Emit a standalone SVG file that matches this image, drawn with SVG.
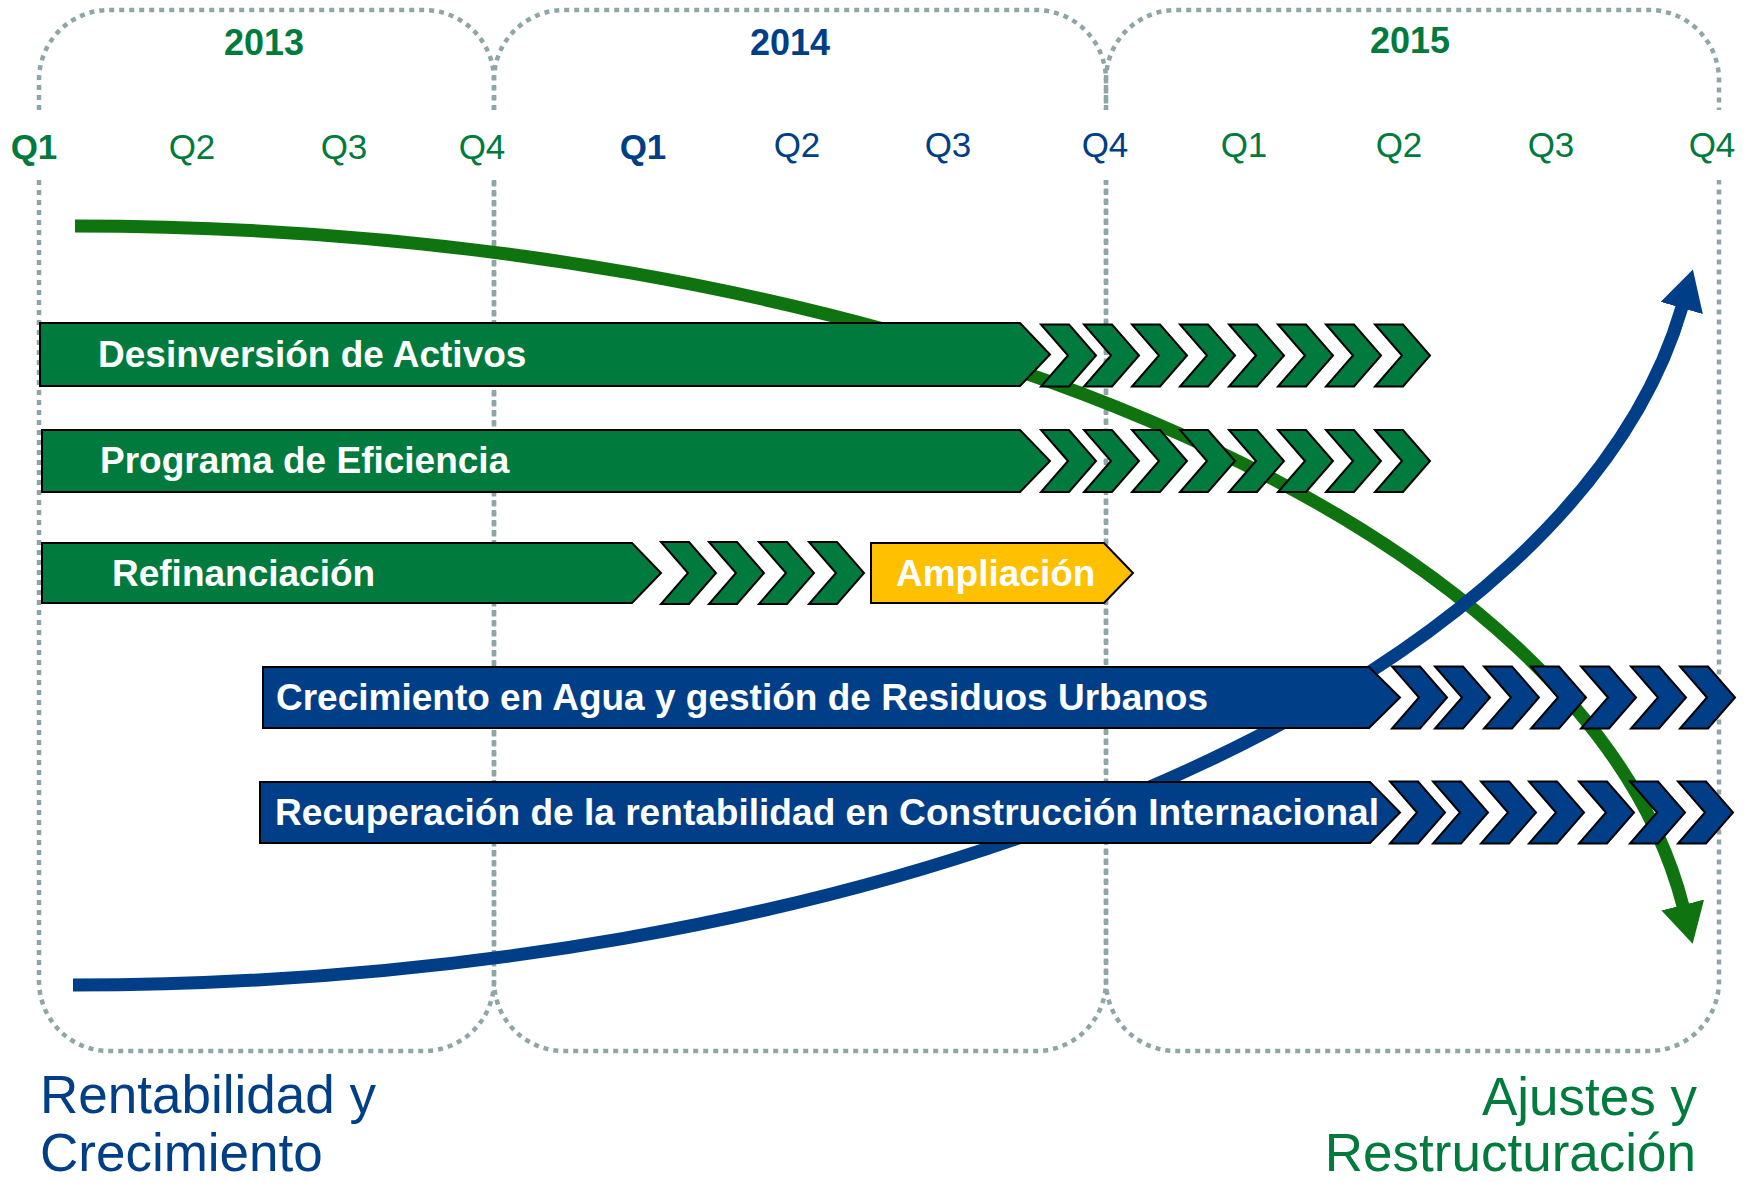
<svg xmlns="http://www.w3.org/2000/svg" xmlns:xlink="http://www.w3.org/1999/xlink" width="1748" height="1183" viewBox="0 0 1748 1183">
<style>
.frame{fill:none;stroke:#8FA6A6;stroke-width:4.5;stroke-dasharray:5 5}
.g{fill:#007A3D;stroke:#000;stroke-width:2;stroke-linejoin:miter}
.b{fill:#003F87;stroke:#000;stroke-width:2;stroke-linejoin:miter}
.y{fill:#FFC000;stroke:#000;stroke-width:2}
.lbl{font-family:"Liberation Sans",Arial,sans-serif;font-weight:bold;font-size:37px;fill:#fff}
.q{font-family:"Liberation Sans",Arial,sans-serif;font-size:35px;text-anchor:middle}
.yr{font-family:"Liberation Sans",Arial,sans-serif;font-size:36px;font-weight:bold;text-anchor:middle}
.tg{fill:#007A3D}
.tb{fill:#003F87}
.big{font-family:"Liberation Sans",Arial,sans-serif;font-size:53px}
</style>
<defs>
<path id="chev" d="M0,0 H28 L55,31 L28,62 H0 L27,31 Z"/>
<marker id="ahG" markerUnits="userSpaceOnUse" viewBox="0 0 40 44" markerWidth="40" markerHeight="44" refX="1" refY="22" orient="auto"><path d="M0,0 L40,22 L0,44 Z" fill="#0F730F"/></marker>
<marker id="ahB" markerUnits="userSpaceOnUse" viewBox="0 0 40 44" markerWidth="40" markerHeight="44" refX="1" refY="22" orient="auto"><path d="M0,0 L40,22 L0,44 Z" fill="#003F87"/></marker>
</defs>
<rect width="1748" height="1183" fill="#fff"/>
<g id="frames">
<path class="frame" d="M39,110 V80 A70,70 0 0 1 109,10 H424 A70,70 0 0 1 494,80 V110 M39,180 V981 A70,70 0 0 0 109,1051 H424 A70,70 0 0 0 494,981 V180"/>
<path class="frame" d="M494,110 V80 A70,70 0 0 1 564,10 H1036 A70,70 0 0 1 1106,80 V110 M494,180 V981 A70,70 0 0 0 564,1051 H1036 A70,70 0 0 0 1106,981 V180"/>
<path class="frame" d="M1106,110 V80 A70,70 0 0 1 1176,10 H1649 A70,70 0 0 1 1719,80 V110 M1106,180 V981 A70,70 0 0 0 1176,1051 H1649 A70,70 0 0 0 1719,981 V180"/>
</g>
<g id="years">
<text class="yr tg" x="264" y="55">2013</text>
<text class="yr tb" x="790" y="55">2014</text>
<text class="yr tg" x="1410" y="53">2015</text>
</g>
<g id="quarters">
<text class="q tg" x="34" y="159" font-weight="bold">Q1</text>
<text class="q tg" x="192" y="159">Q2</text>
<text class="q tg" x="344" y="159">Q3</text>
<text class="q tg" x="482" y="159">Q4</text>
<text class="q tb" x="643" y="159" font-weight="bold">Q1</text>
<text class="q tb" x="797" y="157">Q2</text>
<text class="q tb" x="948" y="157">Q3</text>
<text class="q tb" x="1105" y="157">Q4</text>
<text class="q tg" x="1244" y="157">Q1</text>
<text class="q tg" x="1399" y="157">Q2</text>
<text class="q tg" x="1551" y="157">Q3</text>
<text class="q tg" x="1712" y="157">Q4</text>
</g>
<g id="connectors">
<path d="M75,226 A1620,774 0 0 1 1683,906" fill="none" stroke="#0F730F" stroke-width="13" marker-end="url(#ahG)"/>
<path d="M73,985 A1625,788 0 0 0 1682,307" fill="none" stroke="#003F87" stroke-width="13" marker-end="url(#ahB)"/>
</g>
<g id="desinversion">
<polygon class="g" points="40,323 1020,323 1050,354.5 1020,386 40,386"/>
<use href="#chev" class="g" x="1041" y="324.5"/>
<use href="#chev" class="g" x="1084" y="324.5"/>
<use href="#chev" class="g" x="1132" y="324.5"/>
<use href="#chev" class="g" x="1180" y="324.5"/>
<use href="#chev" class="g" x="1229" y="324.5"/>
<use href="#chev" class="g" x="1278" y="324.5"/>
<use href="#chev" class="g" x="1326" y="324.5"/>
<use href="#chev" class="g" x="1375" y="324.5"/>
<text class="lbl" x="98" y="367">Desinversión de Activos</text>
</g>
<g id="eficiencia">
<polygon class="g" points="42,430 1020,430 1050,461 1020,492 42,492"/>
<use href="#chev" class="g" x="1041" y="430"/>
<use href="#chev" class="g" x="1084" y="430"/>
<use href="#chev" class="g" x="1132" y="430"/>
<use href="#chev" class="g" x="1180" y="430"/>
<use href="#chev" class="g" x="1229" y="430"/>
<use href="#chev" class="g" x="1278" y="430"/>
<use href="#chev" class="g" x="1326" y="430"/>
<use href="#chev" class="g" x="1375" y="430"/>
<text class="lbl" x="100" y="473">Programa de Eficiencia</text>
</g>
<g id="refinanciacion">
<polygon class="g" points="42,543 632,543 661,573 632,603 42,603"/>
<use href="#chev" class="g" x="661" y="542"/>
<use href="#chev" class="g" x="709" y="542"/>
<use href="#chev" class="g" x="759" y="542"/>
<use href="#chev" class="g" x="809" y="542"/>
<text class="lbl" x="112" y="586">Refinanciación</text>
</g>
<g id="ampliacion">
<polygon class="y" points="871,543 1104,543 1133,573 1104,603 871,603"/>
<text class="lbl" x="896" y="586">Ampliación</text>
</g>
<g id="crecimiento">
<polygon class="b" points="263,667 1369,667 1400,697.5 1369,728 263,728"/>
<use href="#chev" class="b" x="1392" y="666.5"/>
<use href="#chev" class="b" x="1435" y="666.5"/>
<use href="#chev" class="b" x="1484" y="666.5"/>
<use href="#chev" class="b" x="1531" y="666.5"/>
<use href="#chev" class="b" x="1581" y="666.5"/>
<use href="#chev" class="b" x="1631" y="666.5"/>
<use href="#chev" class="b" x="1680" y="666.5"/>
<text class="lbl" x="276" y="710">Crecimiento en Agua y gestión de Residuos Urbanos</text>
</g>
<g id="recuperacion">
<polygon class="b" points="260,782 1370,782 1400,812.5 1370,843 260,843"/>
<use href="#chev" class="b" x="1390" y="781.5"/>
<use href="#chev" class="b" x="1433" y="781.5"/>
<use href="#chev" class="b" x="1481" y="781.5"/>
<use href="#chev" class="b" x="1529" y="781.5"/>
<use href="#chev" class="b" x="1579" y="781.5"/>
<use href="#chev" class="b" x="1630" y="781.5"/>
<use href="#chev" class="b" x="1678" y="781.5"/>
<text class="lbl" x="275" y="825" textLength="1104" lengthAdjust="spacingAndGlyphs">Recuperación de la rentabilidad en Construcción Internacional</text>
</g>
<g id="legend-left">
<text class="big tb" x="40" y="1113">Rentabilidad y</text>
<text class="big tb" x="40" y="1171">Crecimiento</text>
</g>
<g id="legend-right">
<text class="big tg" x="1697" y="1115" text-anchor="end">Ajustes y</text>
<text class="big tg" x="1696" y="1171" text-anchor="end">Restructuración</text>
</g>
</svg>
